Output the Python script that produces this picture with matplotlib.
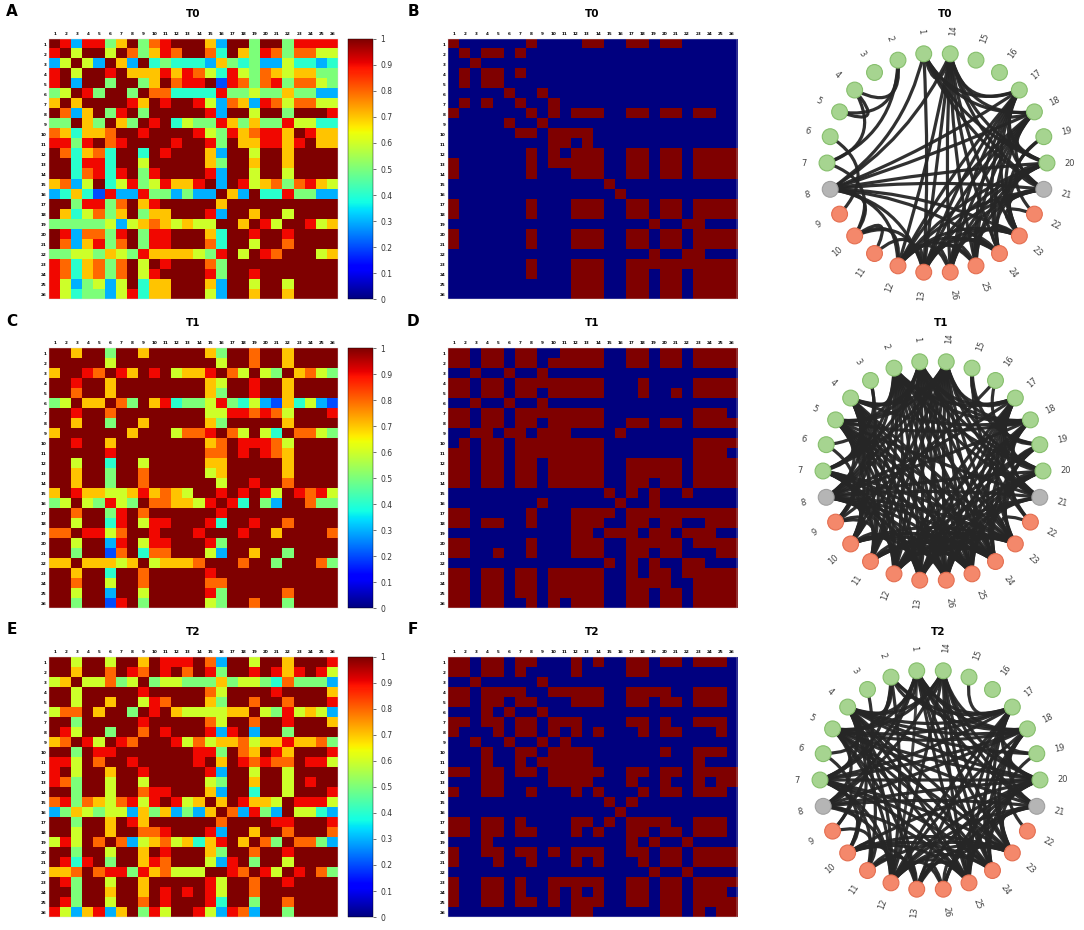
import numpy as np
import matplotlib
matplotlib.use("Agg")
import matplotlib.pyplot as plt
from matplotlib.path import Path
from matplotlib.patches import PathPatch, Circle

W, H = 1084, 930

# correlation matrices (upper triangle, row i starts at column i)
# X = 1.0, digit d = d/10
corr_t0 = [
    "X939957X589XXX73XX5XX59999",
    "X6XX6X85798XX84X759858866",
    "X63X73X45444375453364434",
    "XX9X7779798649658767755",
    "X5XX57X899X29858958865",
    "XX5X8844449556557553" + "3",
    "X97X9XX9638739868866",
    "X5XXXXX93XX6XX5XXX9",
    "X9X465597575596644",
    "XXXX965978997X977",
    "X9XX95X779979X77",
    "XXX73XX6XX7XXXX",
    "XX75XX7XX7XXXX",
    "X93XX6XX6XXXX",
    "X3X967858976",
    "X73X4495533",
    "XXXXXXXXXX",
    "X7XX6XXXX",
    "X96XX967",
    "XX9XXXX",
    "X8XXXX",
    "XXX67",
    "XXXX",
    "XXX",
    "XX",
    "X",
]
corr_t1 = [
    "XX7XX5XX7XXXXX75XX8XX7XXXX",
    "XXXX6XXXXXXXXX6XX8XX7XXXX",
    "X98X97X9X6779X86X65X7865",
    "XX7XXXXXXXX76XX9XX7XXXX",
    "X7XXXXXXXX75XX9XX7XXXX",
    "X85X7945569546327463" + "2",
    "XXXXXXXX66998986XXX9",
    "X7XXXXX75XXXXX7XXXX",
    "XXX6889X86X64X8865",
    "XXXXX78X99986XXXX",
    "XXXX88X9X987XXXX",
    "XXX77XXXXX7XXXX",
    "XX67XXXXX7XXXX",
    "XX6XX9XX8XXXX",
    "X9X9X96X9896",
    "X94X53XX855",
    "XXXXXXXXXX",
    "X9XX8XXXX",
    "XX7XXXX8",
    "XXXXXXX",
    "X5XXXX",
    "XXX85",
    "XXXX",
    "XXX",
    "XX",
    "X",
]
corr_t2 = [
    "XX6XX6XX7X999X83XX6XX7XXX9",
    "X7XX8X98X9X8X95XX9X979X96",
    "X66856X5665557566548" + "5553",
    "XXXXX9XXXXX86XXXX9XXXX7",
    "X7XX698XXX75XX8XX8XXX9",
    "XX5X9X7666677X659676" + "3",
    "XX9XXXXX86XX8XX9XXX7",
    "X8X9XXX939X3XX5XXXX",
    "XXX968677867797785",
    "XXXX995X87X97XXX9",
    "XXX9X7X98988X996",
    "XXX93XX6XX6XXXX",
    "XX65XX7XX6X9XX",
    "X73XX4XX6XXX9",
    "X7X9776X9996",
    "X83953X6643",
    "XXXX99XXX9",
    "X7XX8XXX8",
    "X85X8853",
    "XX9XXXX",
    "X6XXXX",
    "X9X85",
    "XXXX",
    "XXX",
    "XX",
    "X",
]

# binarised matrices: columns that are 1 in each row
bin_t0 = [
    [1, 8, 13, 14, 17, 18, 20, 21],
    [2, 4, 5, 7],
    [3],
    [2, 4, 5, 7],
    [2, 4, 5],
    [6, 9],
    [2, 4, 7, 10],
    [1, 8, 10, 12, 13, 14, 17, 18, 20, 21, 23, 24],
    [6, 9],
    [7, 8, 10, 11, 12, 13],
    [10, 11, 13],
    [8, 10, 12, 13, 14, 17, 18, 20, 21, 23, 24, 25, 26],
    [1, 8, 10, 11, 12, 13, 14, 17, 18, 20, 21, 23, 24, 25, 26],
    [1, 8, 12, 13, 14, 17, 18, 20, 21, 23, 24, 25, 26],
    [15],
    [16],
    [1, 8, 12, 13, 14, 17, 18, 20, 21, 23, 24, 25, 26],
    [1, 8, 12, 13, 14, 17, 18, 20, 21, 23, 24, 25, 26],
    [19, 22, 23],
    [1, 8, 12, 13, 14, 17, 18, 20, 21, 23, 24, 25, 26],
    [1, 8, 12, 13, 14, 17, 18, 20, 21, 23, 24, 25, 26],
    [19, 22, 23],
    [8, 12, 13, 14, 17, 18, 19, 20, 21, 22, 23, 24, 25, 26],
    [8, 12, 13, 14, 17, 18, 20, 21, 23, 24, 25, 26],
    [12, 13, 14, 17, 18, 20, 21, 23, 24, 25, 26],
    [12, 13, 14, 17, 18, 20, 21, 23, 24, 25, 26],
]
bin_t1 = [
    [1, 2, 4, 5, 7, 8, 11, 12, 13, 14, 17, 18, 20, 21, 23, 24, 25, 26],
    [1, 2, 4, 5, 7, 8, 10, 11, 12, 13, 14, 17, 18, 20, 21, 23, 24, 25, 26],
    [3, 6, 9],
    [1, 2, 4, 5, 7, 8, 9, 10, 11, 12, 13, 14, 18, 23, 24, 25, 26],
    [1, 2, 4, 5, 7, 8, 10, 11, 12, 13, 14, 18, 21, 23, 24, 25, 26],
    [3, 6, 9],
    [1, 2, 4, 5, 7, 8, 9, 10, 11, 12, 13, 14, 23, 24, 25],
    [1, 2, 4, 5, 7, 8, 10, 11, 12, 13, 14, 17, 18, 20, 21, 23, 24, 25, 26],
    [3, 4, 6, 7, 9, 10, 11, 16],
    [2, 4, 5, 7, 8, 9, 10, 11, 12, 13, 14, 23, 24, 25, 26],
    [1, 2, 4, 5, 7, 8, 9, 10, 11, 12, 13, 14, 23, 24, 25],
    [1, 2, 4, 5, 7, 8, 10, 11, 12, 13, 14, 17, 18, 19, 20, 21, 23, 24, 25, 26],
    [1, 2, 4, 5, 7, 8, 10, 11, 12, 13, 14, 17, 18, 19, 20, 21, 23, 24, 25, 26],
    [1, 2, 4, 5, 7, 8, 10, 11, 12, 13, 14, 17, 18, 20, 21, 23, 24, 25, 26],
    [15, 17, 19, 22],
    [9, 16, 19],
    [1, 2, 8, 12, 13, 14, 15, 17, 18, 19, 20, 21, 22, 23, 24, 25, 26],
    [1, 2, 4, 5, 8, 12, 13, 14, 17, 18, 20, 21, 24, 25, 26],
    [12, 13, 15, 16, 17, 19, 20, 22, 23, 24],
    [1, 2, 8, 12, 13, 14, 17, 18, 19, 20, 21, 23, 24, 25, 26],
    [1, 2, 5, 8, 12, 13, 14, 17, 18, 20, 21, 25, 26],
    [15, 19, 22, 23],
    [1, 2, 4, 5, 7, 8, 10, 11, 12, 13, 14, 17, 19, 20, 22, 23, 24, 25, 26],
    [1, 2, 4, 5, 7, 8, 10, 11, 12, 13, 14, 17, 18, 19, 20, 23, 24, 25, 26],
    [1, 2, 4, 5, 7, 8, 10, 11, 12, 13, 14, 17, 18, 20, 21, 23, 24, 25, 26],
    [1, 2, 4, 5, 8, 10, 12, 13, 14, 17, 18, 20, 21, 23, 24, 25, 26],
]
bin_t2 = [
    [1, 2, 4, 5, 7, 8, 12, 14, 17, 18, 20, 21, 23, 24, 25],
    [1, 2, 4, 5, 7, 12, 17, 18],
    [3, 9],
    [1, 2, 4, 5, 6, 7, 10, 11, 12, 13, 14, 17, 18, 19, 20, 23, 24, 25],
    [1, 2, 4, 5, 7, 8, 12, 13, 14, 17, 18, 20, 21, 23, 24, 25],
    [4, 6, 9],
    [1, 2, 4, 5, 7, 8, 10, 11, 12, 17, 18, 20, 23, 24, 25],
    [1, 5, 7, 8, 10, 12, 14, 18, 20, 21, 25],
    [3, 6, 9, 11],
    [4, 7, 8, 10, 11, 12, 13, 20, 23, 24, 25],
    [4, 7, 9, 10, 11, 12, 23],
    [1, 2, 4, 5, 7, 8, 10, 11, 12, 13, 14, 17, 18, 20, 21, 23, 24, 25, 26],
    [4, 5, 10, 11, 12, 13, 17, 20, 23, 25, 26],
    [1, 4, 5, 8, 12, 14, 18, 20, 21, 23, 24, 25],
    [15, 17],
    [16],
    [1, 2, 4, 5, 7, 12, 13, 15, 17, 18, 19, 20, 23, 24, 25],
    [1, 2, 4, 5, 7, 8, 12, 14, 17, 18, 20, 21, 23, 24, 25],
    [4, 17, 19, 22],
    [1, 4, 5, 7, 8, 10, 12, 13, 14, 17, 18, 20, 21, 23, 24, 25, 26],
    [1, 5, 8, 12, 14, 18, 20, 21, 23, 24, 25, 26],
    [19, 22],
    [1, 4, 5, 7, 10, 11, 12, 13, 14, 17, 18, 20, 21, 23, 24, 25, 26],
    [1, 4, 5, 7, 10, 12, 14, 17, 18, 20, 21, 23, 24, 25],
    [1, 4, 5, 7, 8, 10, 12, 13, 14, 17, 18, 20, 21, 23, 24, 25, 26],
    [12, 13, 20, 21, 23, 25, 26],
]

node_labels = [str(i) for i in range(1, 27)]
# node order clockwise from the top of the ring
ring_order = [1, 14, 15, 16, 17, 18, 19, 20, 21, 22, 23, 24, 25, 26,
              13, 12, 11, 10, 9, 8, 7, 6, 5, 4, 3, 2]
# g = green, x = grey, o = orange
node_group = "gggggggxoooooggggggg" + "xooooo"
group_face = {"g": "#a6d490", "x": "#b5b5b5", "o": "#f4886b"}
group_edge = {"g": "#86bf6c", "x": "#a0a0a0", "o": "#e46e50"}

titles = ["T0", "T1", "T2"]
panel_letters = [("A", "B"), ("C", "D"), ("E", "F")]


def full_matrix(rows):
    n = len(rows)
    m = np.zeros((n, n))
    for i, s in enumerate(rows):
        for k, ch in enumerate(s):
            v = 1.0 if ch == "X" else int(ch) / 10
            m[i, i + k] = v
            m[i + k, i] = v
    return m


def bin_matrix(rows):
    n = len(rows)
    m = np.zeros((n, n))
    for i, cols in enumerate(rows):
        for c in cols:
            m[i, c - 1] = 1
    return np.maximum(m, m.T)


fig = plt.figure(figsize=(W / 100, H / 100), dpi=100)


def px_axes(x0, y0, x1, y1):
    return fig.add_axes([x0 / W, 1 - y1 / H, (x1 - x0) / W, (y1 - y0) / H])


def draw_matrix(ax, m):
    im = ax.imshow(m, cmap="jet", vmin=0, vmax=1, aspect="auto",
                   interpolation="nearest")
    ax.set_xticks(range(26))
    ax.set_yticks(range(26))
    ax.set_xticklabels(node_labels, fontsize=3, fontweight="bold")
    ax.set_yticklabels(node_labels, fontsize=3, fontweight="bold")
    ax.xaxis.tick_top()
    ax.tick_params(length=0, pad=2)
    for sp in ax.spines.values():
        sp.set_linewidth(0.3)
        sp.set_color("#dddddd")
    return im


def draw_ring(ax, bm, cm):
    n = len(ring_order)
    pos = {}
    for p, node in enumerate(ring_order):
        ang = np.deg2rad(90 + 180 / n - p * 360 / n)
        pos[node] = (np.cos(ang), np.sin(ang), np.rad2deg(ang))
    for i in range(26):
        for j in range(i + 1, 26):
            if bm[i, j] < 1:
                continue
            x1, y1, _ = pos[i + 1]
            x2, y2, _ = pos[j + 1]
            cx, cy = 0.55 * (x1 + x2) / 2, 0.55 * (y1 + y2) / 2
            path = Path([(x1, y1), (cx, cy), (x2, y2)],
                        [Path.MOVETO, Path.CURVE3, Path.CURVE3])
            w = np.clip((cm[i, j] - 0.5) / 0.5, 0, 1)
            ax.add_patch(PathPatch(path, fc="none", ec="#262626",
                                   lw=1.0 + 1.3 * w, alpha=0.5 + 0.45 * w,
                                   zorder=1))
    for node in ring_order:
        x, y, a = pos[node]
        g = node_group[node - 1]
        ax.add_patch(Circle((x, y), 0.072, fc=group_face[g], ec=group_edge[g],
                            lw=0.8, zorder=3))
        rot = a if -90 <= a <= 90 else a - 180
        if a > 270:
            rot = a - 360
        ax.text(1.21 * x, 1.21 * y, node_labels[node - 1], fontsize=6,
                color="#444444", rotation=rot, ha="center", va="center")
    ax.set_xlim(-1.3, 1.3)
    ax.set_ylim(-1.3, 1.3)
    ax.axis("off")


corr_list = [full_matrix(corr_t0), full_matrix(corr_t1), full_matrix(corr_t2)]
bin_list = [bin_matrix(bin_t0), bin_matrix(bin_t1), bin_matrix(bin_t2)]

row_top = [39, 348, 657]
ring_centers = [(937, 163), (933, 471), (930, 780)]

for k in range(3):
    top = row_top[k]
    bot = top + 260
    cm = corr_list[k]
    bm = bin_list[k]

    ax1 = px_axes(49, top, 338, bot)
    im = draw_matrix(ax1, cm)
    cax = px_axes(348, top, 373, bot)
    cb = fig.colorbar(im, cax=cax, ticks=np.arange(0, 1.01, 0.1))
    cb.ax.set_yticklabels(["0", "0.1", "0.2", "0.3", "0.4", "0.5", "0.6",
                           "0.7", "0.8", "0.9", "1"], fontsize=5.5, color="#333333")
    cb.ax.tick_params(length=2, width=0.4)
    cb.outline.set_linewidth(0.3)

    ax2 = px_axes(448, top, 737, bot)
    draw_matrix(ax2, bm)

    cx, cy = ring_centers[k]
    r = 110
    ax3 = px_axes(cx - 1.3 * r, cy - 1.3 * r, cx + 1.3 * r, cy + 1.3 * r)
    draw_ring(ax3, bm, cm)

    fig.text(193 / W, 1 - (top - 25) / H, titles[k], fontsize=7.5,
             fontweight="bold", ha="center", va="center")
    fig.text(592 / W, 1 - (top - 25) / H, titles[k], fontsize=7.5,
             fontweight="bold", ha="center", va="center")
    fig.text((cx + 8) / W, 1 - (top - 25) / H, titles[k], fontsize=7.5,
             fontweight="bold", ha="center", va="center")
    la, lb = panel_letters[k]
    fig.text(12 / W, 1 - (top - 27) / H, la, fontsize=11, fontweight="bold",
             ha="center", va="center")
    fig.text(413 / W, 1 - (top - 27) / H, lb, fontsize=11, fontweight="bold",
             ha="center", va="center")

fig.savefig("out.png", dpi=100, facecolor="white")
